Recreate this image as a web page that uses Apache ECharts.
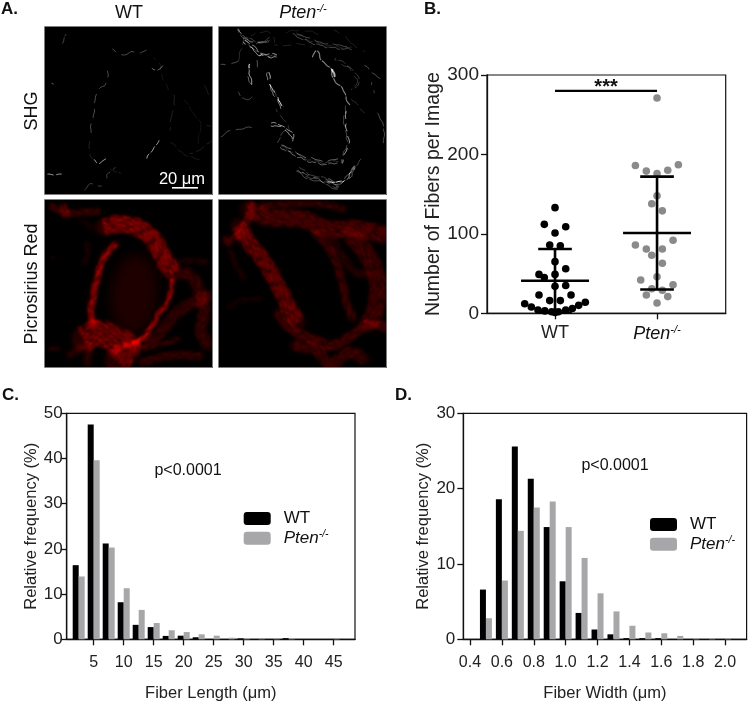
<!DOCTYPE html>
<html>
<head>
<meta charset="utf-8">
<style>html,body{margin:0;padding:0;background:#fff}#main{width:748px;height:701px}</style>
<script src="https://cdn.jsdelivr.net/npm/echarts@6/dist/echarts.min.js"></script>
</head>
<body>
<div id="main"></div>
<script>
// panel B - swarm, x is in group units (1 = WT, 2 = Pten)
var wtX = [1, 0.895, 1.105, 1, 0.948, 1.052, 1, 1.105, 0.843, 1, 0.895, 1, 1.105, 0.843, 1.157, 0.948, 1.052, 0.703, 1.297, 0.768, 1.232, 0.833, 1.17, 0.9, 1.105, 0.967, 1.033, 1];
var wtY = [133, 112, 109, 101, 86, 85, 65, 56, 49, 49, 45, 34, 35, 23, 23, 16, 16, 12, 14, 8, 10, 4, 6, 3, 4, 2, 2, 1];
var ptenX = [2, 1.788, 2.209, 1.895, 2, 2.105, 2, 1.948, 2.052, 2.157, 1.788, 1.895, 2.052, 1.948, 2.052, 2, 1.84, 2.157, 1.948, 2.052, 1.895, 2.105, 2];
var ptenY = [271, 186, 187, 179, 176, 180, 148, 138, 129, 92, 86, 81, 81, 73, 63, 46, 42, 36, 31, 29, 23, 21, 13];
var groupX = [1, 2];
var meanY = [41, 101];
var lowerY = [1, 30];
var upperY = [81, 172];
var sigBar = [1, 2, 280];

// panel C
var lengthBins = [2.5, 5, 7.5, 10, 12.5, 15, 17.5, 20, 22.5, 25, 27.5, 30, 32.5, 35, 37.5, 40, 42.5, 45];
var wtLength = [16.4, 47.5, 21.2, 8.2, 3.2, 2.7, 0.75, 0.8, 0.45, 0.05, 0.05, 0.2, 0.05, 0.05, 0.25, 0, 0, 0];
var ptenLength = [13.9, 39.6, 20.3, 11.3, 6.5, 3.6, 2.0, 1.6, 1.1, 0.8, 0.35, 0.25, 0.15, 0.15, 0.2, 0, 0, 0.15];
var lengthTicks = [5, 10, 15, 20, 25, 30, 35, 40, 45];

// panel D
var widthBins = [0.5, 0.6, 0.7, 0.8, 0.9, 1.0, 1.1, 1.2, 1.3, 1.4, 1.5, 1.6, 1.7, 1.8, 1.9, 2.0];
var wtWidth = [6.6, 18.6, 25.6, 21.3, 14.9, 7.7, 3.5, 1.3, 0.66, 0.15, 0.15, 0.15, 0, 0, 0, 0];
var ptenWidth = [2.8, 7.8, 14.4, 17.5, 18.3, 14.9, 10.8, 6.1, 3.7, 1.8, 0.9, 0.8, 0.45, 0.15, 0.15, 0.15];
var widthTicks = [0.4, 0.6, 0.8, 1.0, 1.2, 1.4, 1.6, 1.8, 2.0];

var FONT = '"Liberation Sans", Arial, sans-serif';
var GRAY = '#a7a7a9';
var DOT_GRAY = '#8a8a8a';

var ptenRich = function (size) {
    return {
        g: {width: 8},
        it: {fontFamily: FONT, fontStyle: 'italic', fontSize: size, color: '#111'},
        sup: {fontFamily: FONT, fontStyle: 'italic', fontSize: size * 0.62, color: '#111', verticalAlign: 'top', lineHeight: size * 1.1, padding: [0, 0, size * 0.42, 0]}
    };
};

// micrographs, coordinates are 3x crop pixels
// [points, spread, fibres, alpha, line width]
var shgWt = [
    [[[55, 52], [58, 38], [65, 25]], 0, 1, .6, 2], [[[12, 443], [32, 447], [52, 447]], 0, 1, .8, 2.5],
    [[[24, 172], [28, 174]], 0, 1, .9, 3], [[[205, 72], [235, 86], [262, 80], [285, 82], [305, 70]], 0, 1, .55, 2],
    [[[325, 125], [340, 132], [356, 120]], 0, 1, .6, 2.5], [[[330, 95], [345, 115], [362, 170], [382, 205]], 0, 1, .3, 2],
    [[[190, 135], [186, 175], [160, 195], [150, 250], [140, 320]], 0, 1, .5, 2], [[[150, 403], [165, 410], [184, 398]], 0, 1, .85, 3],
    [[[186, 455], [190, 443], [215, 428]], 0, 1, .7, 2.5], [[[122, 492], [140, 476], [172, 480]], 0, 1, .4, 2],
    [[[310, 397], [322, 375], [334, 358], [346, 345]], 0, 1, 1, 3], [[[438, 382], [470, 370], [502, 345]], 0, 1, .35, 2],
    [[[392, 208], [386, 260], [375, 312]], 0, 1, .2, 2], [[[420, 222], [450, 262], [470, 300], [460, 352]], 0, 1, .2, 2],
    [[[478, 180], [490, 192], [495, 205]], 0, 1, .3, 2], [[[140, 330], [135, 380], [150, 400]], 0, 1, .2, 2],
    [[[200, 430], [230, 445]], 0, 1, .3, 2], [[[380, 350], [430, 390], [465, 400]], 0, 1, .22, 2],
    [[[160, 300], [155, 290]], 0, 1, .5, 2], [[[490, 295], [500, 300]], 0, 1, .4, 2]
];
var shgPten = [
    [[[60, 10], [80, 35], [120, 50], [155, 40]], 6, 3, .5, 2.2], [[[80, 45], [110, 70], [130, 85], [175, 90]], 8, 3, .7, 2.5],
    [[[100, 30], [150, 15], [170, 50]], 0, 1, .4, 2], [[[10, 118], [40, 112], [60, 105]], 0, 1, .6, 2],
    [[[95, 115], [92, 145], [100, 175]], 4, 2, .75, 3], [[[130, 85], [115, 105], [120, 125]], 0, 1, .85, 3],
    [[[150, 140], [155, 175], [165, 195], [192, 245]], 5, 2, .85, 3], [[[60, 200], [85, 220], [110, 210]], 0, 1, .5, 2],
    [[[170, 190], [180, 225], [196, 240]], 0, 1, .6, 2.5], [[[10, 332], [45, 312], [105, 305]], 0, 1, .45, 2],
    [[[160, 295], [190, 300], [220, 325], [222, 345]], 6, 2, .85, 3], [[[175, 250], [200, 285], [215, 310]], 0, 1, .55, 2],
    [[[190, 360], [235, 385], [270, 400], [320, 410], [360, 405]], 10, 3, .55, 2.2], [[[240, 430], [270, 450], [320, 465], [360, 485]], 14, 4, .55, 2.2],
    [[[330, 465], [360, 470], [390, 455], [410, 420]], 8, 3, .8, 2.5], [[[385, 240], [380, 290], [390, 345], [370, 410]], 4, 2, .75, 2.5],
    [[[283, 92], [295, 75], [310, 100], [335, 125], [345, 155], [370, 185], [385, 215], [395, 236]], 0, 1, 1, 3.5],
    [[[343, 132], [350, 160]], 0, 1, 1, 6], [[[225, 20], [280, 45], [340, 60], [400, 65]], 10, 3, .42, 2],
    [[[350, 10], [400, 50], [440, 80]], 0, 1, .4, 2], [[[350, 100], [400, 130], [420, 170], [400, 190]], 6, 2, .42, 2],
    [[[440, 120], [490, 160]], 0, 1, .5, 2], [[[460, 170], [470, 200]], 0, 1, .7, 2.5], [[[480, 260], [500, 320], [495, 350]], 0, 1, .5, 2],
    [[[400, 220], [440, 260]], 0, 1, .3, 2], [[[170, 60], [250, 55], [280, 60]], 0, 1, .45, 2], [[[430, 400], [410, 430]], 0, 1, .4, 2],
    [[[60, 110], [75, 40], [60, 12]], 0, 1, .35, 2], [[[205, 20], [250, 12], [300, 25]], 0, 1, .3, 2], [[[200, 310], [180, 350]], 0, 1, .4, 2]
];
var redWt = [
    [[[215, 135], [180, 175], [160, 235], [148, 290], [140, 345], [150, 375]], 16, 5, .6, 3.5],
    [[[180, 85], [230, 75], [290, 90], [330, 125], [360, 180], [388, 222]], 48, 13, .5, 3.5],
    [[[385, 240], [375, 300], [345, 345], [315, 395], [285, 425], [240, 440]], 10, 4, .6, 3.5],
    [[[120, 420], [160, 400], [210, 420], [250, 445], [220, 485]], 72, 16, .45, 4],
    [[[270, 440], [340, 410], [390, 350], [440, 315], [505, 290]], 30, 6, .32, 2.6],
    [[[300, 450], [370, 430], [405, 420]], 10, 3, .35, 2.6],
    [[[420, 220], [450, 240], [470, 290], [480, 340], [470, 400], [495, 440]], 30, 6, .35, 2.6],
    [[[400, 190], [440, 185], [490, 190]], 12, 3, .18, 3],
    [[[20, 20], [60, 40], [110, 40], [165, 35]], 15, 4, .32, 3], [[[58, 18], [65, 52]], 14, 3, .4, 4],
    [[[130, 130], [130, 170], [120, 195]], 8, 2, .22, 3], [[[75, 470], [130, 440], [130, 495]], 20, 3, .3, 3],
    [[[15, 450], [50, 450]], 5, 2, .25, 3], [[[24, 176], [28, 176]], 0, 1, .9, 3],
    [[[290, 490], [380, 470], [470, 470]], 20, 4, .3, 3], [[[110, 60], [145, 90]], 10, 2, .18, 3]
];
var redPten = [
    [[[90, 30], [150, 55], [250, 60], [330, 90], [420, 90], [505, 110]], 48, 13, .34, 3.2],
    [[[60, 80], [100, 140], [140, 190], [190, 280], [210, 320], [240, 370]], 42, 12, .42, 3.6],
    [[[20, 125], [60, 110], [90, 60], [100, 15]], 22, 5, .34, 3.2], [[[30, 130], [50, 190], [80, 240]], 10, 3, .22, 2.6],
    [[[30, 325], [70, 305], [130, 300]], 8, 2, .2, 2.6],
    [[[180, 340], [220, 390], [300, 425], [340, 440], [400, 410], [450, 375], [505, 385]], 24, 6, .38, 3],
    [[[230, 440], [290, 450], [340, 495], [390, 460], [440, 480]], 30, 7, .36, 3],
    [[[290, 100], [340, 160], [370, 240], [385, 310], [405, 360]], 18, 4, .4, 3],
    [[[400, 110], [450, 170], [480, 250], [470, 340], [450, 375]], 48, 12, .3, 3.2],
    [[[340, 120], [400, 210], [450, 230]], 20, 4, .25, 3], [[[130, 20], [200, 15], [300, 15], [380, 30]], 15, 4, .32, 3]
];

function resample(pts) {
    var out = [];
    for (var i = 0; i < pts.length - 1; i++) {
        var p0 = pts[Math.max(i - 1, 0)], p1 = pts[i], p2 = pts[i + 1], p3 = pts[Math.min(i + 2, pts.length - 1)];
        for (var t = 0; t < 1; t += 0.08) {
            var t2 = t * t, t3 = t2 * t;
            out.push([
                0.5 * (2 * p1[0] + (p2[0] - p0[0]) * t + (2 * p0[0] - 5 * p1[0] + 4 * p2[0] - p3[0]) * t2 + (3 * p1[0] - p0[0] - 3 * p2[0] + p3[0]) * t3),
                0.5 * (2 * p1[1] + (p2[1] - p0[1]) * t + (2 * p0[1] - 5 * p1[1] + 4 * p2[1] - p3[1]) * t2 + (3 * p1[1] - p0[1] - 3 * p2[1] + p3[1]) * t3)
            ]);
        }
    }
    out.push(pts[pts.length - 1]);
    return out;
}

function micrograph(strokes, rgb, lumen, soft) {
    var canvas = document.createElement('canvas');
    canvas.width = 168;
    canvas.height = 168;
    var ctx = canvas.getContext('2d');
    ctx.fillStyle = '#000';
    ctx.fillRect(0, 0, 168, 168);
    ctx.translate(-1, -1);
    ctx.scale(1 / 3, 1 / 3);
    if (lumen) {
        ctx.filter = 'blur(6px)';
        ctx.fillStyle = lumen;
        ctx.beginPath();
        ctx.ellipse(270, 285, 70, 120, 0.1, 0, Math.PI * 2);
        ctx.fill();
    }
    ctx.globalCompositeOperation = 'lighter';
    ctx.lineJoin = ctx.lineCap = 'round';
    strokes.forEach(function (s, si) {
        var line = resample(s[0]);
        // faint glow under a bundle, the strands stay visible on top of it
        if (soft && s[1]) {
            ctx.filter = 'blur(2px)';
            ctx.strokeStyle = 'rgba(' + rgb + ',' + s[3] * 0.36 + ')';
            ctx.lineWidth = s[1] + 3;
            ctx.setLineDash([]);
            ctx.beginPath();
            line.forEach(function (p, i) { if (i) ctx.lineTo(p[0], p[1]); else ctx.moveTo(p[0], p[1]); });
            ctx.stroke();
        }
        ctx.filter = soft ? 'blur(0.9px)' : 'blur(0.7px)';
        for (var f = 0; f < s[2]; f++) {
            var off = s[2] > 1 ? (f / (s[2] - 1) - 0.5) * s[1] : 0;
            var phase = si * 1.7 + f * 2.3;
            var amp = 2;
            var freq = 0.09 + (f % 3) * 0.03;
            ctx.setLineDash([18 + (si * 7 + f * 13) % 34, 6 + (si * 5 + f * 11) % 16]);
            ctx.lineDashOffset = f * 17 + si * 9;
            ctx.strokeStyle = 'rgba(' + rgb + ',' + s[3] * (0.72 + 0.28 * Math.sin(phase * 1.3)) + ')';
            ctx.lineWidth = s[4];
            ctx.beginPath();
            var len = 0;
            line.forEach(function (p, i) {
                var a = line[Math.max(i - 1, 0)], b = line[Math.min(i + 1, line.length - 1)];
                var dx = b[0] - a[0], dy = b[1] - a[1], d = Math.sqrt(dx * dx + dy * dy) || 1;
                len += d / 2;
                var w = off + amp * Math.sin(len * freq + phase) + amp * 0.6 * Math.sin(len * freq * 2.3 + phase * 2);
                var x = p[0] - dy / d * w, y = p[1] + dx / d * w;
                if (i) ctx.lineTo(x, y); else ctx.moveTo(x, y);
            });
            ctx.stroke();
        }
    });
    return canvas;
}

function panel(x, y, canvas) {
    return {
        type: 'group',
        children: [
            {type: 'image', x: x, y: y, style: {image: canvas, x: 0, y: 0, width: 168, height: 168}},
            {type: 'rect', shape: {x: x - 0.5, y: y - 0.5, width: 168, height: 168}, style: {fill: 'none', stroke: '#7d7d7d', lineWidth: 1}}
        ]
    };
}

function label(text, x, y, size, opts) {
    opts = opts || {};
    return {
        type: 'text', x: x, y: y, rotation: opts.rotation || 0, z: 10,
        style: {
            text: text, font: (opts.bold ? 'bold ' : '') + size + 'px ' + FONT,
            fill: opts.color || '#111', align: opts.align || 'center', verticalAlign: 'middle', rich: opts.rich
        }
    };
}

// mean +/- SD and the significance bar
function errorItem(params, api) {
    var x = api.value(0);
    var pt = function (vx, vy) { return api.coord([vx, vy]); };
    var seg = function (a, b) {
        return {type: 'line', shape: {x1: a[0], y1: a[1], x2: b[0], y2: b[1]}, style: {stroke: '#000', lineWidth: 2.6}};
    };
    return {
        type: 'group',
        children: [
            seg(pt(x - 0.333, api.value(1)), pt(x + 0.333, api.value(1))),
            seg(pt(x, api.value(2)), pt(x, api.value(3))),
            seg(pt(x - 0.165, api.value(2)), pt(x + 0.165, api.value(2))),
            seg(pt(x - 0.165, api.value(3)), pt(x + 0.165, api.value(3)))
        ]
    };
}

function sigItem(params, api) {
    var a = api.coord([api.value(0), api.value(2)]);
    var b = api.coord([api.value(1), api.value(2)]);
    return {
        type: 'group',
        children: [
            {type: 'line', shape: {x1: a[0], y1: a[1], x2: b[0], y2: b[1]}, style: {stroke: '#000', lineWidth: 2.4}},
            {type: 'text', x: (a[0] + b[0]) / 2, y: a[1] - 3, style: {text: '***', font: 'bold 20px ' + FONT, fill: '#111', align: 'center', verticalAlign: 'middle'}}
        ]
    };
}

function xAxis(index, min, max, ticks, name, gap, size, margin, fmt) {
    return {
        type: 'value', gridIndex: index, min: min, max: max, name: name, nameLocation: 'middle', nameGap: gap,
        nameTextStyle: {fontFamily: FONT, fontSize: 16.5, color: '#222'},
        splitLine: {show: false},
        axisLine: {onZero: false, lineStyle: {color: '#111', width: 1.3}},
        axisTick: {customValues: ticks, length: 6, lineStyle: {color: '#111', width: 1.3}},
        axisLabel: {customValues: ticks, fontFamily: FONT, fontSize: size, color: '#222', margin: margin, formatter: fmt, rich: ptenRich(size), hideOverlap: false}
    };
}

function yAxis(index, max, interval, name, gap, size, nameSize, margin) {
    return {
        type: 'value', gridIndex: index, min: 0, max: max, interval: interval, name: name, nameLocation: 'middle', nameGap: gap,
        nameTextStyle: {fontFamily: FONT, fontSize: nameSize, color: '#222'},
        splitLine: {show: false},
        axisLine: {show: true, lineStyle: {color: '#111', width: 1.3}},
        axisTick: {show: true, length: 6, lineStyle: {color: '#111', width: 1.3}},
        axisLabel: {fontFamily: FONT, fontSize: size, color: '#222', margin: margin}
    };
}

function pairs(xs, ys) {
    return xs.map(function (x, i) { return [x, ys[i]]; });
}

function bars(name, color, xi, xs, ys) {
    return {
        name: name, type: 'bar', xAxisIndex: xi, yAxisIndex: xi, barWidth: 6, barGap: 0,
        itemStyle: {color: color}, data: pairs(xs, ys), silent: true
    };
}

var legendFormatter = function (n) { return n === 'WT' ? '{g|}WT' : '{g|}{it|Pten}{sup|-/-}'; };
function legend(left, top) {
    return {
        left: left, top: top, padding: 0, orient: 'vertical', itemWidth: 27, itemHeight: 13, itemGap: 2, icon: 'roundRect',
        data: ['WT', 'Pten'], formatter: legendFormatter, selectedMode: false,
        textStyle: {fontFamily: FONT, fontSize: 17, color: '#111', rich: ptenRich(17)}
    };
}

// outerBoundsMode none: v6 would otherwise shrink the grids to keep labels inside
var frame = {show: true, borderColor: '#111', borderWidth: 1.2, backgroundColor: 'transparent', outerBoundsMode: 'none'};

var chart = echarts.init(document.getElementById('main'), null, {renderer: 'canvas'});
chart.setOption({
    animation: false,
    backgroundColor: '#fff',
    grid: [
        Object.assign({left: 487, top: 75, width: 238.7, height: 238.3}, frame),
        Object.assign({left: 66.7, top: 413.3, width: 288.3, height: 226}, frame),
        Object.assign({left: 463.3, top: 413.3, width: 283.3, height: 226}, frame)
    ],
    xAxis: [
        xAxis(0, 1 / 3, 2.673, groupX, '', 0, 18, 11, function (v) { return v === 1 ? 'WT' : '{it|Pten}{sup|-/-}'; }),
        xAxis(1, 0.5, 48.55, lengthTicks, 'Fiber Length (\u03bcm)', 46, 16, 15),
        xAxis(2, 0.358, 2.135, widthTicks, 'Fiber Width (\u03bcm)', 46, 16, 15, function (v) { return v.toFixed(1); })
    ],
    yAxis: [
        yAxis(0, 300, 100, 'Number of Fibers per Image', 43, 19, 19.5, 8),
        yAxis(1, 50, 10, 'Relative frequency (%)', 27, 17, 16.5, 4),
        yAxis(2, 30, 10, 'Relative frequency (%)', 31, 17, 16.5, 8)
    ],
    legend: [legend(243.7, 510), legend(650, 516)],
    series: [
        {type: 'scatter', xAxisIndex: 0, yAxisIndex: 0, symbolSize: 7.6, itemStyle: {color: '#000', opacity: 1}, data: pairs(wtX, wtY), silent: true, z: 2},
        {type: 'scatter', xAxisIndex: 0, yAxisIndex: 0, symbolSize: 7.6, itemStyle: {color: DOT_GRAY, opacity: 1}, data: pairs(ptenX, ptenY), silent: true, z: 2},
        {
            type: 'custom', xAxisIndex: 0, yAxisIndex: 0, renderItem: errorItem, silent: true, z: 3,
            data: groupX.map(function (x, i) { return [x, meanY[i], lowerY[i], upperY[i]]; })
        },
        {type: 'custom', xAxisIndex: 0, yAxisIndex: 0, renderItem: sigItem, silent: true, z: 3, data: [sigBar]},
        bars('WT', '#000', 1, lengthBins, wtLength),
        bars('Pten', GRAY, 1, lengthBins, ptenLength),
        bars('WT', '#000', 2, widthBins, wtWidth),
        bars('Pten', GRAY, 2, widthBins, ptenWidth)
    ],
    graphic: [
        panel(45, 27, micrograph(shgWt, '255,255,255')),
        panel(219, 27, micrograph(shgPten, '255,255,255')),
        panel(45, 200, micrograph(redWt, '235,0,0', 'rgb(30,0,0)', true)),
        panel(219, 200, micrograph(redPten, '215,0,0', null, true)),
        {type: 'rect', z: 10, shape: {x: 172, y: 187, width: 26, height: 1.6}, style: {fill: '#fff'}},
        label('20 \u03bcm', 182, 179, 16.5, {color: '#fff'}),
        label('A.', 1, 9, 17, {bold: true, align: 'left'}),
        label('B.', 424, 9, 17, {bold: true, align: 'left'}),
        label('C.', 2, 395, 17, {bold: true, align: 'left'}),
        label('D.', 395, 395, 17, {bold: true, align: 'left'}),
        label('WT', 129, 13, 18),
        label('{it|Pten}{sup|-/-}', 303, 13, 18, {rich: ptenRich(18)}),
        label('SHG', 32, 111, 18, {rotation: Math.PI / 2}),
        label('Picrosirius Red', 32, 284, 18, {rotation: Math.PI / 2}),
        label('p<0.0001', 188, 471, 16),
        label('p<0.0001', 615, 466, 16)
    ]
});
</script>
</body>
</html>
